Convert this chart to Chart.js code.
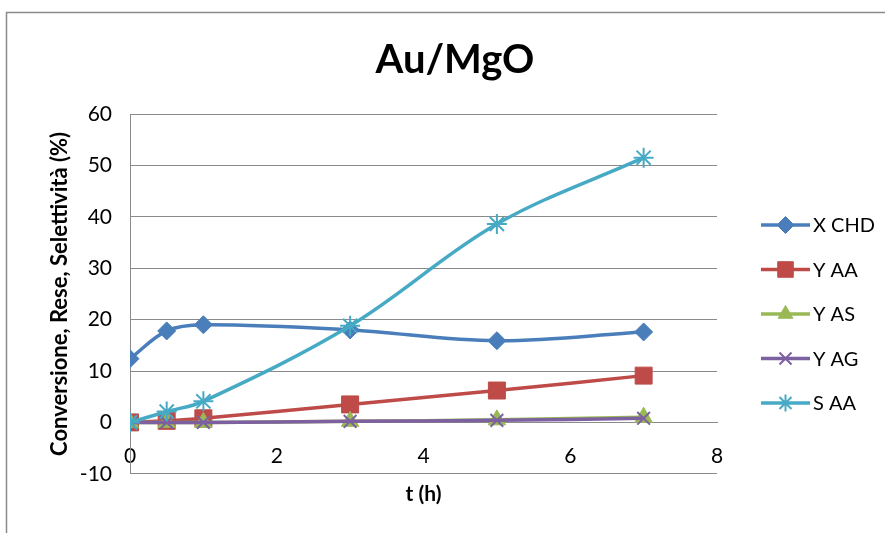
<!DOCTYPE html>
<html>
<head>
<meta charset="utf-8">
<script src="https://cdn.jsdelivr.net/npm/chart.js@4"></script>
<style>
  html, body { margin: 0; padding: 0; background: #fff; overflow: hidden; }
  #wrap { width: 885px; height: 533px; position: relative; }
</style>
</head>
<body>
<div id="wrap"><canvas id="myChart"></canvas></div>
<script>
const times = [0, 0.5, 1, 3, 5, 7];
const seriesNames = ["X CHD", "Y AA", "Y AS", "Y AG", "S AA"];
const xChd = [12.4, 17.8, 19.0, 18.0, 15.9, 17.6];
const yAa = [0, 0.3, 0.8, 3.5, 6.2, 9.1];
const yAs = [0, 0, 0, 0.2, 0.5, 1.0];
const yAg = [0, 0, 0, 0.2, 0.4, 0.8];
const sAa = [0, 2.1, 4.1, 18.8, 38.6, 51.5];
const yTicks = [-10, 0, 10, 20, 30, 40, 50, 60];
const xTicks = [0, 2, 4, 6, 8];
const chartTitle = "Au/MgO";

const colors = ["#4a7ebb", "#be4b48", "#98b954", "#7d60a0", "#46aac5"];
const markers = ["rectRot", "rect", "triangle", "crossRot", "star"];
const radii = [9, 12, 10, 9, 10];
const values = [xChd, yAa, yAs, yAg, sAa];
const font = "Lato, 'Open Sans', sans-serif";

function points(vals) {
  return times.map((t, i) => ({ x: t, y: vals[i] }));
}

const datasets = seriesNames.map((name, i) => ({
  label: name,
  data: points(values[i]),
  showLine: true,
  tension: 0.35,
  borderColor: colors[i],
  backgroundColor: colors[i],
  borderWidth: 3.5,
  pointStyle: markers[i],
  pointRadius: radii[i],
  pointBorderWidth: (markers[i] === "crossRot" || markers[i] === "star") ? 2 : 1,
  pointBorderColor: colors[i],
  order: seriesNames.length - i,
}));

// title drawn by hand so it sits where Excel put it
const topTitle = {
  id: "topTitle",
  afterDraw(chart) {
    const ctx = chart.ctx;
    ctx.save();
    ctx.fillStyle = "#000";
    ctx.font = "bold 40px " + font;
    ctx.textAlign = "center";
    ctx.textBaseline = "middle";
    ctx.fillText(chartTitle, 455, 60);
    ctx.restore();
  },
};

// Excel-like legend: a line with the marker on it
const sideLegend = {
  id: "sideLegend",
  afterDraw(chart) {
    const ctx = chart.ctx;
    ctx.save();
    chart.data.datasets.forEach((ds, i) => {
      const y = 225 + i * 44.5;
      ctx.strokeStyle = ds.borderColor;
      ctx.lineWidth = 3.5;
      ctx.beginPath();
      ctx.moveTo(761, y);
      ctx.lineTo(810, y);
      ctx.stroke();
      ctx.fillStyle = ds.backgroundColor;
      ctx.lineWidth = ds.pointBorderWidth;
      const r = ds.pointStyle === "rect" ? 11 : 8.5;
      Chart.helpers.drawPoint(ctx, { pointStyle: ds.pointStyle, radius: r, borderWidth: ds.pointBorderWidth }, 785.5, y);
      ctx.fillStyle = "#000";
      ctx.font = "20px " + font;
      ctx.textBaseline = "middle";
      ctx.fillText(ds.label, 813, y + 1);
    });
    ctx.restore();
  },
};

const frame = {
  id: "frame",
  beforeDraw(chart) {
    const ctx = chart.ctx;
    ctx.save();
    ctx.fillStyle = "#fff";
    ctx.fillRect(0, 0, chart.width, chart.height);
    ctx.strokeStyle = "#8a8a8a";
    ctx.lineWidth = 1.5;
    ctx.strokeRect(6.5, 12.5, 1000, 1000);
    ctx.restore();
  },
};

const config = {
  type: "scatter",
  data: { datasets: datasets },
  options: {
    responsive: true,
    maintainAspectRatio: false,
    animation: false,
    layout: { padding: { left: 47, right: 168, top: 114, bottom: 26 } },
    plugins: {
      legend: { display: false },
      tooltip: { enabled: false },
      title: { display: false },
    },
    scales: {
      x: {
        type: "linear",
        position: { y: 0 },
        min: 0,
        max: 8,
        afterBuildTicks: (s) => { s.ticks = xTicks.map((v) => ({ value: v })); },
        grid: { display: false },
        border: { display: true, color: "#8a8a8a", width: 1 },
        ticks: { color: "#000", font: { family: font, size: 21 }, padding: 13 },
      },
      x2: {
        type: "linear",
        position: "bottom",
        min: 0,
        max: 8,
        grid: { display: false, drawTicks: false },
        border: { display: false },
        ticks: { display: false },
        title: {
          display: true,
          text: "t (h)",
          color: "#000",
          font: { family: font, size: 21, weight: "bold" },
          padding: { top: 8, bottom: 0 },
        },
      },
      y: {
        type: "linear",
        min: -10,
        max: 60,
        afterBuildTicks: (s) => { s.ticks = yTicks.map((v) => ({ value: v })); },
        afterFit: (s) => { s.width = 83; },
        grid: { color: "#8a8a8a", lineWidth: 1, drawTicks: false },
        border: { display: true, color: "#8a8a8a", width: 1 },
        ticks: { color: "#000", font: { family: font, size: 21 }, padding: 18 },
        title: {
          display: true,
          text: "Conversione, Rese, Selettività (%)",
          color: "#000",
          font: { family: font, size: 22, weight: "bold" },
          padding: { top: 0, bottom: 4 },
        },
      },
    },
  },
  plugins: [frame, topTitle, sideLegend],
};

const myChart = new Chart(document.getElementById("myChart"), config);
</script>
</body>
</html>
